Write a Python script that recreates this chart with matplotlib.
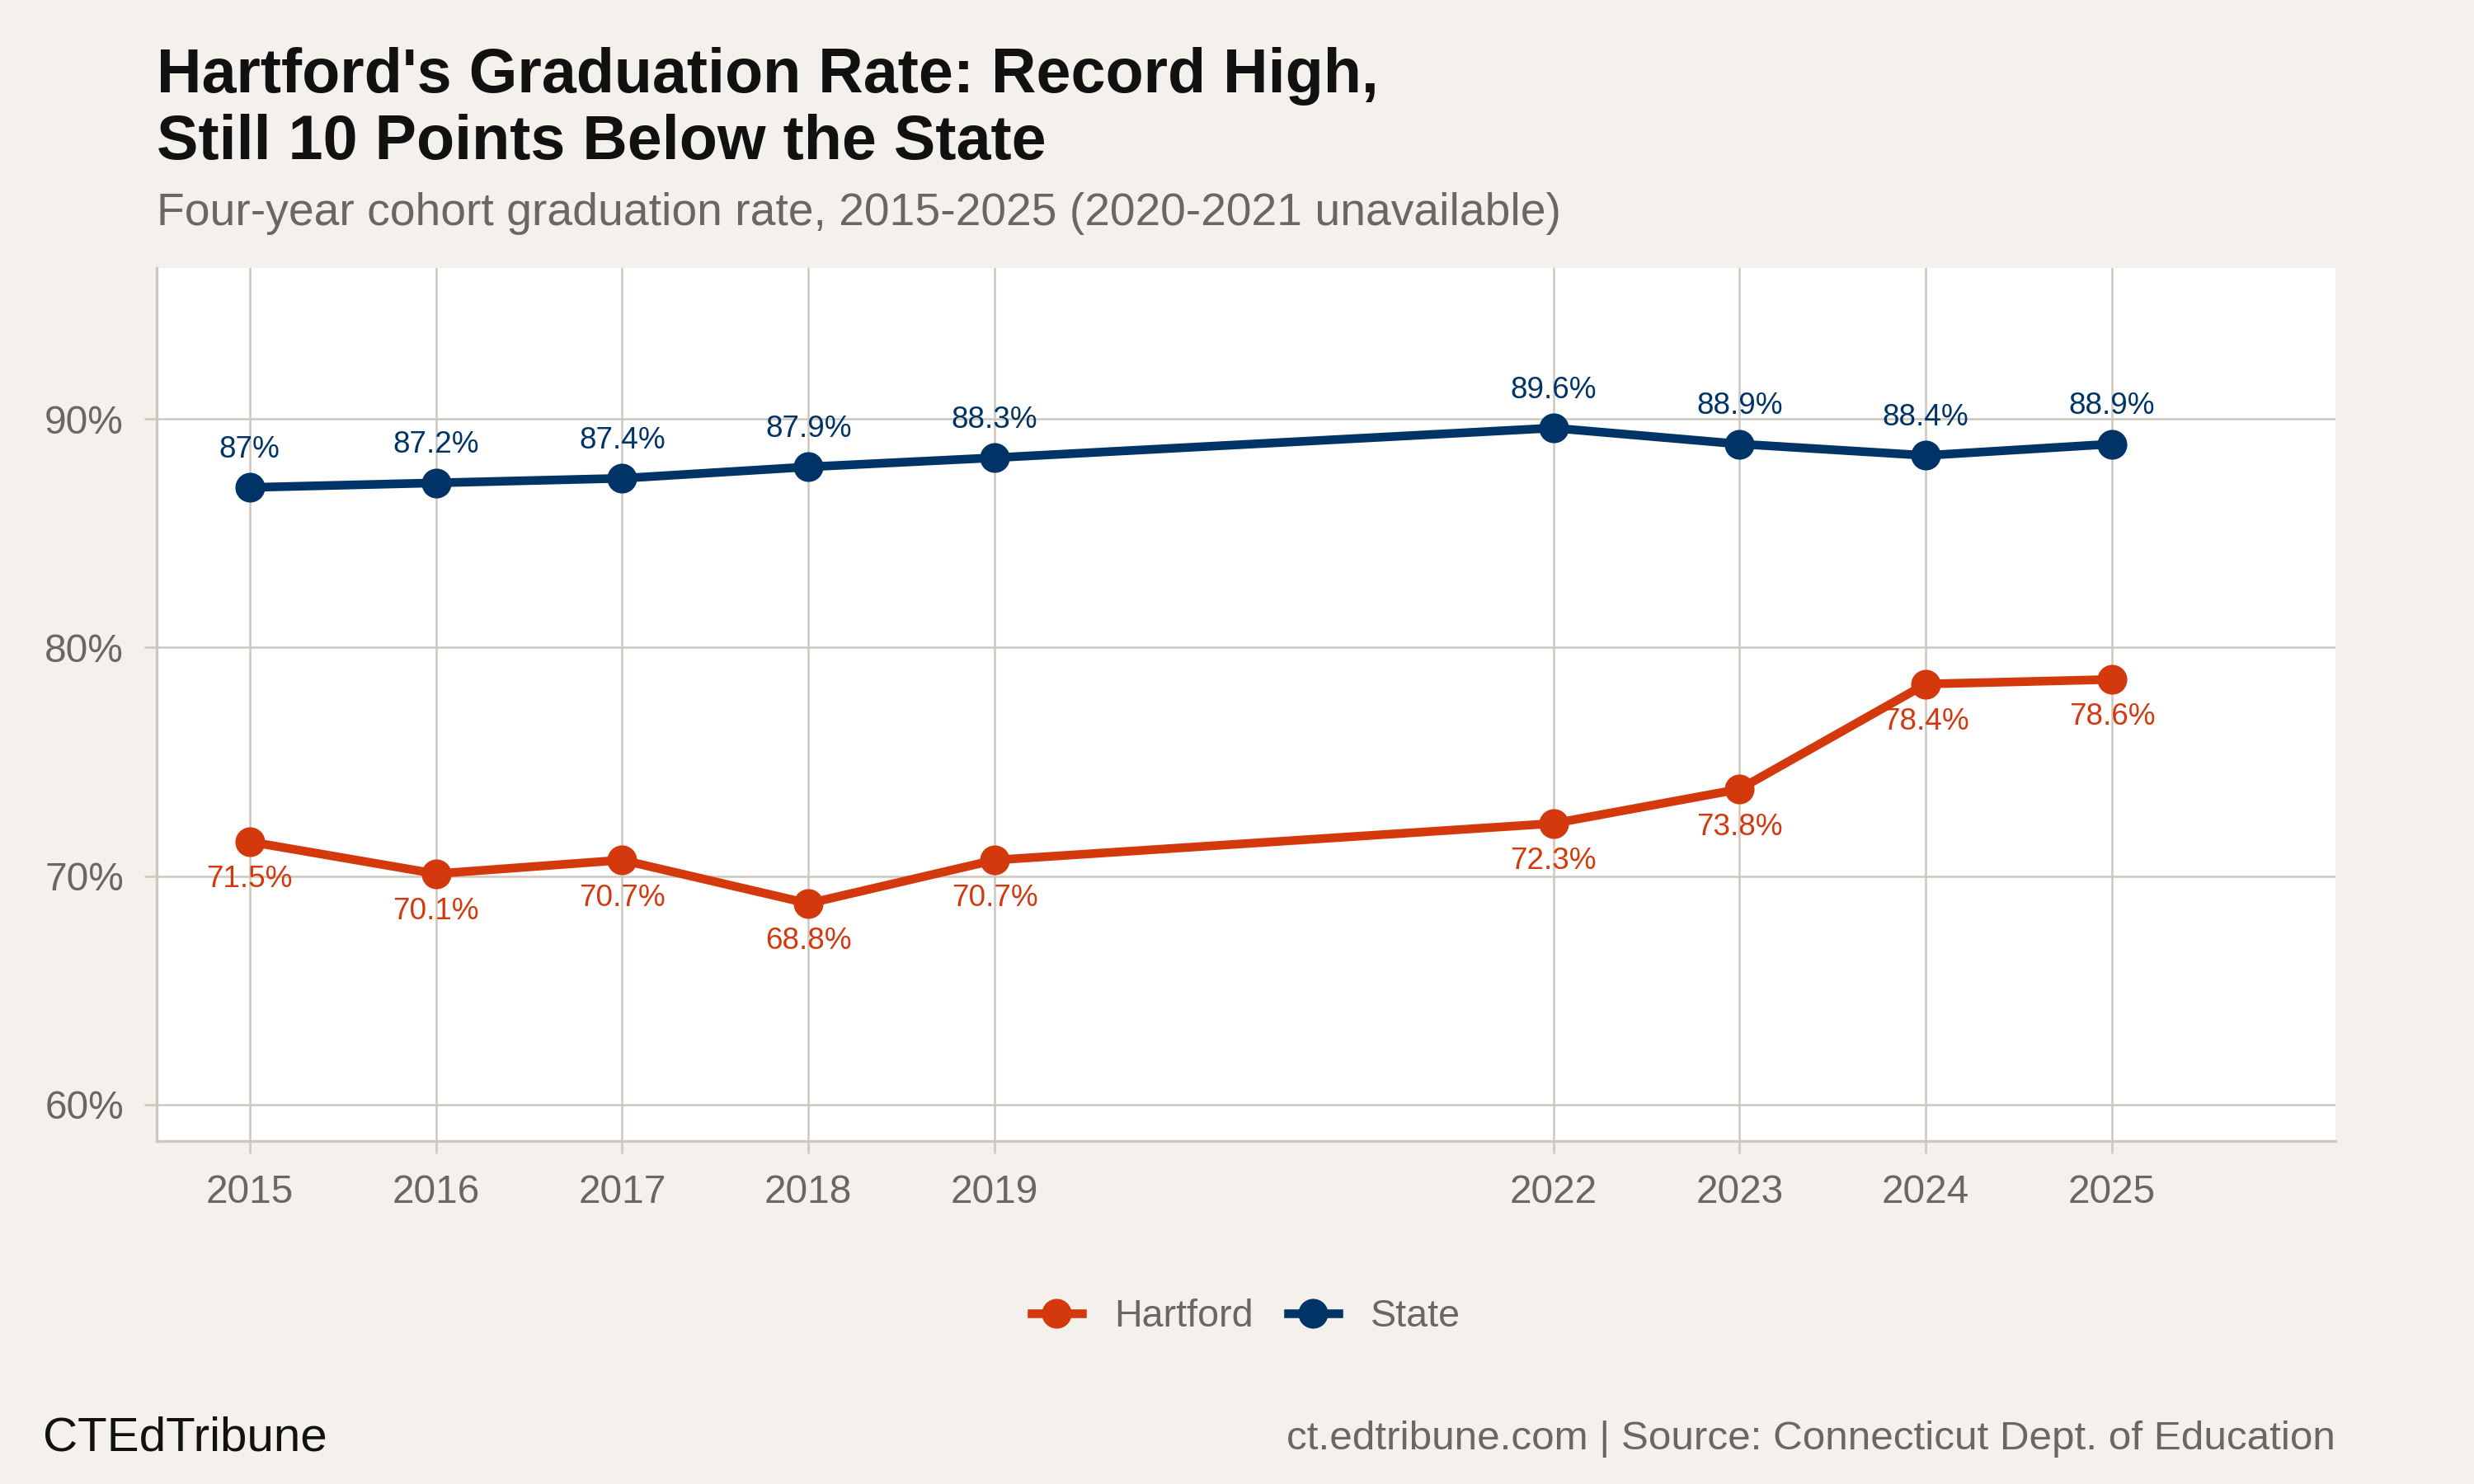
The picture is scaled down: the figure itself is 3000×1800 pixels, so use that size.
import matplotlib
matplotlib.use("Agg")
import matplotlib.pyplot as plt
from matplotlib.ticker import FuncFormatter

plt.rcParams["font.family"] = ["Liberation Sans", "DejaVu Sans"]

# Данные
years = [2015, 2016, 2017, 2018, 2019, 2022, 2023, 2024, 2025]
hartford = [71.5, 70.1, 70.7, 68.8, 70.7, 72.3, 73.8, 78.4, 78.6]
state = [87.0, 87.2, 87.4, 87.9, 88.3, 89.6, 88.9, 88.4, 88.9]
y_ticks = [60, 70, 80, 90]

bg = "#f4f1ec"
grid_c = "#cdc7bd"
txt_grey = "#6b6661"
c_hart = "#d4380d"
c_state = "#003366"

fig = plt.figure(figsize=(15, 9), dpi=200, facecolor=bg)
ax = fig.add_axes([0.0633, 0.231, 0.8807, 0.5884])
ax.set_facecolor("white")

ax.plot(years, hartford, color=c_hart, lw=3.8, marker="o", ms=12, label="Hartford", zorder=3)
ax.plot(years, state, color=c_state, lw=3.8, marker="o", ms=12, label="State", zorder=3)

for x, v in zip(years, state):
    ax.annotate(f"{v:g}%", (x, v), xytext=(0, 16.5), textcoords="offset points",
                ha="center", va="center", fontsize=13.3, color=c_state)
for x, v in zip(years, hartford):
    ax.annotate(f"{v:g}%", (x, v), xytext=(0, -16.5), textcoords="offset points",
                ha="center", va="center", fontsize=13.3, color=c_hart)

ax.set_xlim(2014.5, 2026.2)
ax.set_ylim(58.4, 96.6)
ax.set_xticks(years)
ax.set_yticks(y_ticks)
ax.yaxis.set_major_formatter(FuncFormatter(lambda v, p: f"{v:.0f}%"))
ax.grid(True, color=grid_c, lw=0.9)
ax.set_axisbelow(True)
for s in ["top", "right"]:
    ax.spines[s].set_visible(False)
for s in ["left", "bottom"]:
    ax.spines[s].set_color(grid_c)
    ax.spines[s].set_linewidth(1.2)
ax.tick_params(axis="both", length=5.4, width=0.9, color=grid_c, pad=9,
               labelsize=17.2, labelcolor=txt_grey)

leg = fig.legend(loc="center", bbox_to_anchor=(0.5037, 1 - 1597 / 1800), ncol=2,
                 frameon=False, fontsize=16.8, handlelength=1.3, handletextpad=0.85,
                 columnspacing=0.9)
for t in leg.get_texts():
    t.set_color(txt_grey)

fig.text(190 / 3000, 1 - 112 / 1800, "Hartford's Graduation Rate: Record High,",
         fontsize=27.2, fontweight="bold", color="#111111", va="baseline", ha="left")
fig.text(190 / 3000, 1 - 193 / 1800, "Still 10 Points Below the State",
         fontsize=27.2, fontweight="bold", color="#111111", va="baseline", ha="left")
fig.text(190 / 3000, 1 - 273 / 1800, "Four-year cohort graduation rate, 2015-2025 (2020-2021 unavailable)",
         fontsize=19.9, color=txt_grey, va="baseline", ha="left")

fig.text(52 / 3000, 1 - 1745 / 1800, "CTEdTribune", fontsize=21, color="#111111",
         va="center", ha="left")
fig.text(2832 / 3000, 1 - 1745 / 1800, "ct.edtribune.com | Source: Connecticut Dept. of Education",
         fontsize=17.8, color=txt_grey, va="center", ha="right")

fig.savefig("out.png", dpi=200, facecolor=bg)
